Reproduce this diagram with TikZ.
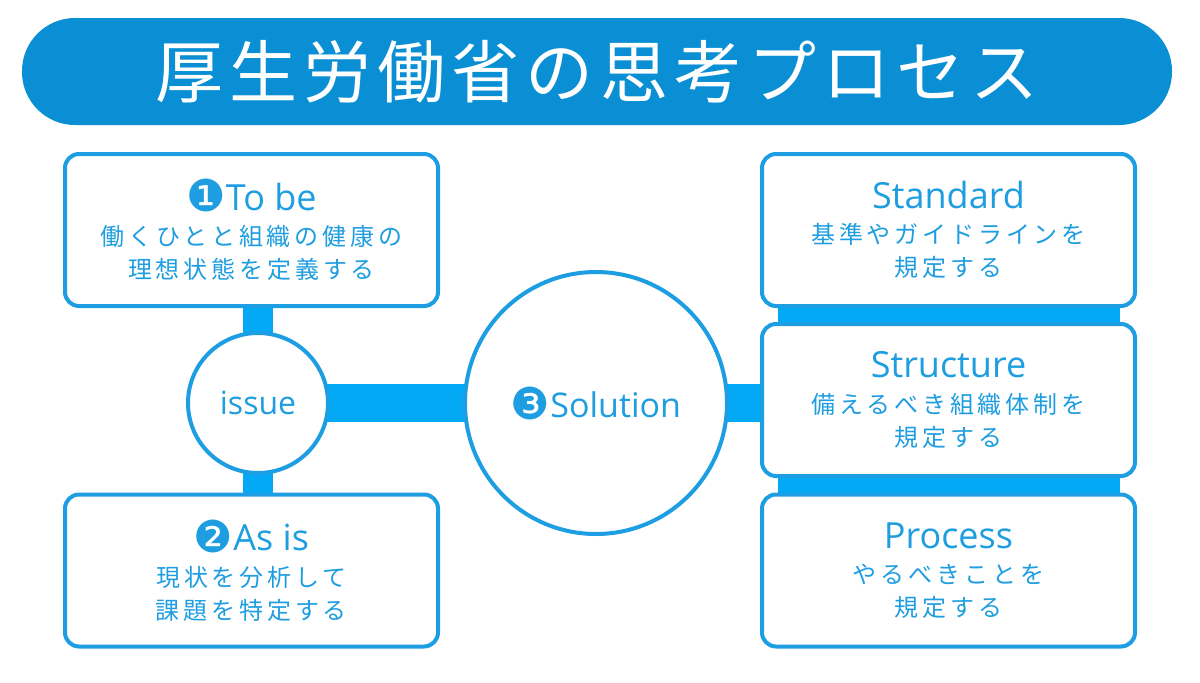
\documentclass[tikz,border=0pt]{standalone}
\usepackage{fontspec}
\setmainfont{Open Sans}
\newfontfamily\jpfont[LetterSpace=16]{Noto Sans CJK JP}
\newfontfamily\titlefont[LetterSpace=9]{Noto Sans CJK JP}
\newfontfamily\dingfont{DejaVu Sans}
\usetikzlibrary{backgrounds}
\definecolor{linec}{HTML}{1E9EE2}
\definecolor{barc}{HTML}{03A9F4}
\definecolor{pillc}{HTML}{0A8FD5}
\definecolor{txtc}{HTML}{1E9EE0}
\newcommand{\numdot}[1]{{\dingfont\fontsize{44}{44}\selectfont\raisebox{-1.5pt}{#1}}}
\newcommand{\headline}[2]{{\rmfamily\fontsize{36}{36}\selectfont\numdot{#1}#2}}
\newcommand{\headplain}[1]{{\rmfamily\fontsize{36}{36}\selectfont #1}}
\begin{document}
\begin{tikzpicture}[x=1pt,y=-1pt,
  box/.style={draw=linec, line width=4pt, fill=white, rounded corners=14pt,
    minimum width=373pt, minimum height=152pt, align=center, text=txtc,
    inner sep=0pt, font=\jpfont\fontsize{24}{33}\selectfont},
  ring/.style={circle, draw=linec, line width=4pt, fill=white, text=txtc, inner sep=0pt},
  pill/.style={fill=pillc, rounded corners=53pt, minimum width=1150pt,
    minimum height=107pt, inner sep=0pt, text=white},
  vbar/.style={draw=barc, line width=30pt},
  hbar/.style={draw=barc, line width=38pt},
  wbar/.style={fill=barc}]
\useasboundingbox (0,0) rectangle (1200,683);

\node[pill] (title) at (597,71.5) {\titlefont\fontsize{68}{68}\selectfont 厚生労働省の思考プロセス};

\node[box] (tobe) at (251.5,230) {\headline{❶}{To be}\\[2.5pt]働くひとと組織の健康の\\理想状態を定義する};
\node[box] (asis) at (251.5,570.5) {\headline{❷}{As is}\\[2.5pt]現状を分析して\\課題を特定する};

\node[ring, minimum size=140pt] (issue) at (258,403) {\fontsize{32}{32}\selectfont issue};
\node[ring, minimum size=262pt] (sol) at (596,403) {\fontsize{34}{34}\selectfont\numdot{❸}Solution};

\node[box] (std) at (948.5,230) {\headplain{Standard}\\[2.5pt]基準やガイドラインを\\規定する};
\node[box] (str) at (948.5,400) {\headplain{Structure}\\[2.5pt]備えるべき組織体制を\\規定する};
\node[box] (proc) at (948.5,570.5) {\headplain{Process}\\[2.5pt]やるべきことを\\規定する};

\begin{scope}[on background layer]
  \draw[vbar] (tobe.south -| issue) -- (issue.center);
  \draw[vbar] (issue.center) -- (asis.north -| issue);
  \draw[hbar] (issue.center) -- (sol.center);
  \draw[hbar] (sol.center) -- (sol.center -| str.west);
  \fill[wbar] ([xshift=18pt]std.south west) rectangle ([xshift=-17pt]str.north east);
  \fill[wbar] ([xshift=18pt]str.south west) rectangle ([xshift=-17pt]proc.north east);
\end{scope}
\end{tikzpicture}
\end{document}
